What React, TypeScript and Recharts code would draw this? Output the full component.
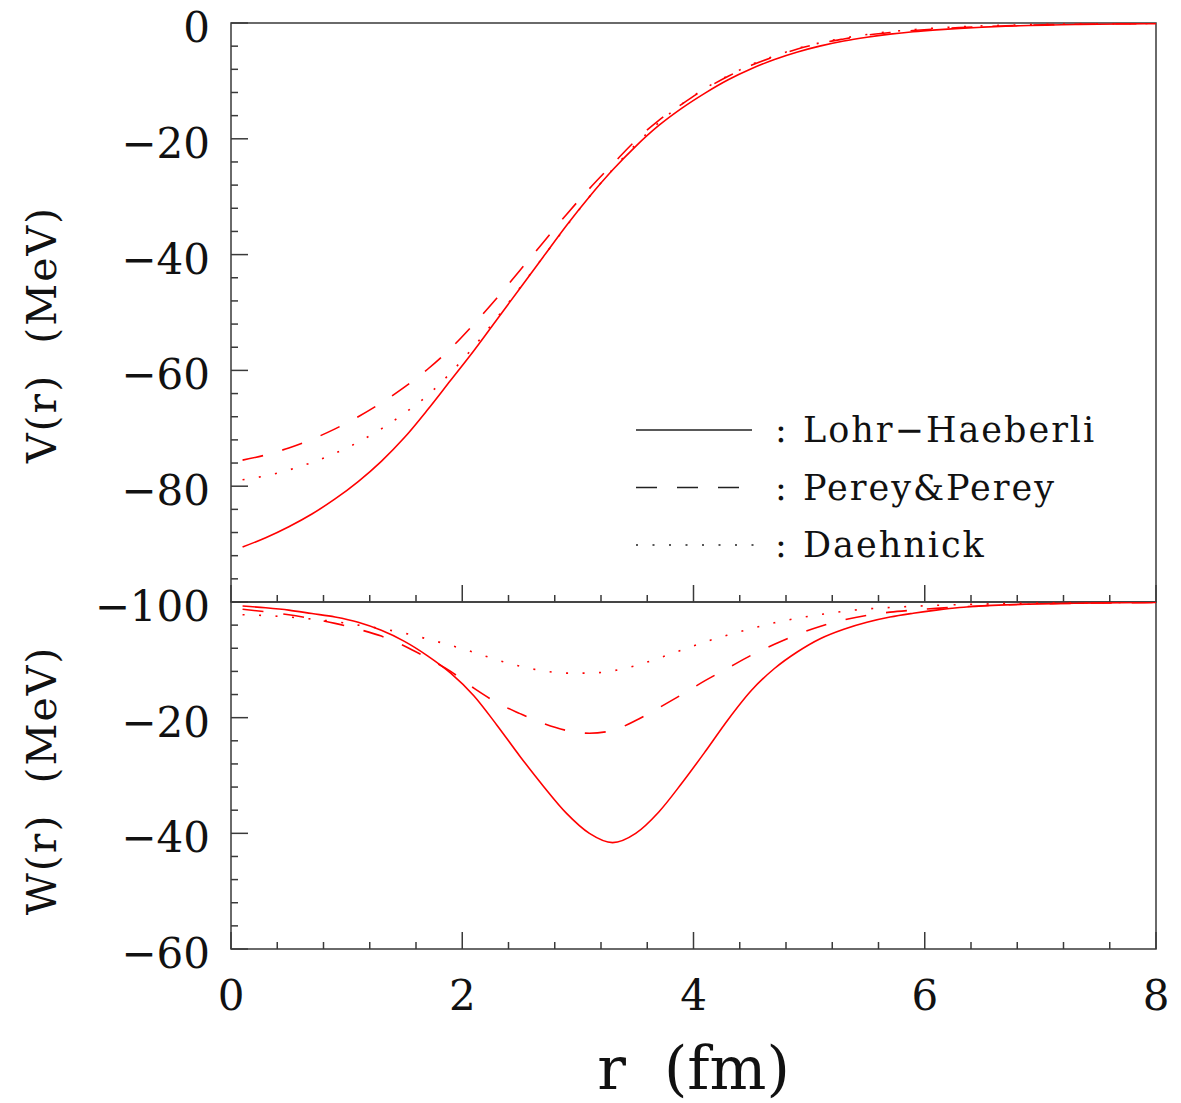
import React from 'react';
import { LineChart, Line, XAxis, YAxis, ReferenceArea, Legend } from 'recharts';

// radius grid (fm), shared by all curves
const R = [0.1, 0.3, 0.5, 0.7, 0.9, 1.1, 1.3, 1.5, 1.7, 1.9, 2.1, 2.3, 2.5, 2.7, 2.9, 3.1, 3.3, 3.5, 3.7, 3.9, 4.1, 4.3, 4.5, 4.7, 4.9, 5.1, 5.3, 5.5, 5.7, 5.9, 6.1, 6.3, 6.5, 6.7, 6.9, 7.1, 7.3, 7.5, 7.7, 7.9, 8.0];

// real part V(r), MeV
const V_LH = [-90.5, -88.9, -87.0, -84.8, -82.2, -79.2, -75.7, -71.6, -66.8, -61.7, -56.6, -51.2, -45.8, -40.4, -35.0, -30.0, -25.4, -21.3, -17.7, -14.7, -12.1, -9.8, -7.9, -6.3, -5.0, -3.95, -3.1, -2.45, -1.92, -1.5, -1.18, -0.92, -0.72, -0.56, -0.44, -0.34, -0.27, -0.21, -0.16, -0.13, -0.11];
const V_PP = [-75.5, -74.6, -73.4, -71.9, -70.1, -68.0, -65.6, -62.9, -59.8, -56.2, -52.0, -47.5, -42.7, -37.9, -33.1, -28.6, -24.4, -20.3, -16.8, -14.0, -11.4, -9.2, -7.3, -5.8, -4.5, -3.5, -2.75, -2.1, -1.65, -1.3, -1.02, -0.8, -0.62, -0.48, -0.37, -0.28, -0.22, -0.17, -0.13, -0.1, -0.09];
const V_D = [-78.9, -78.2, -77.2, -75.9, -74.3, -72.4, -70.1, -67.4, -64.3, -60.4, -55.9, -50.9, -45.7, -40.4, -35.1, -30.0, -25.3, -21.0, -17.2, -14.0, -11.3, -9.1, -7.2, -5.7, -4.4, -3.4, -2.6, -2.0, -1.5, -1.15, -0.87, -0.66, -0.5, -0.38, -0.29, -0.22, -0.17, -0.13, -0.1, -0.08, -0.07];

// imaginary part W(r), MeV
const W_LH = [-0.7, -1.0, -1.4, -2.0, -2.6, -3.5, -4.9, -6.8, -9.3, -12.3, -16.2, -21.3, -26.7, -31.8, -36.5, -40.0, -41.6, -40.0, -36.3, -31.3, -25.9, -20.3, -15.3, -11.5, -8.6, -6.3, -4.7, -3.5, -2.6, -1.95, -1.4, -0.95, -0.68, -0.5, -0.37, -0.28, -0.21, -0.16, -0.12, -0.09, -0.08];
const W_PP = [-1.25, -1.7, -2.2, -2.9, -3.7, -4.7, -5.9, -7.6, -9.7, -12.0, -14.9, -17.4, -19.3, -21.0, -22.2, -22.7, -22.2, -20.5, -18.3, -16.0, -13.6, -11.4, -9.2, -7.3, -5.6, -4.2, -3.1, -2.3, -1.75, -1.4, -1.1, -0.85, -0.65, -0.5, -0.38, -0.29, -0.22, -0.17, -0.13, -0.1, -0.09];
const W_D = [-2.2, -2.35, -2.6, -2.95, -3.4, -4.0, -4.6, -5.4, -6.4, -7.5, -8.7, -10.0, -11.1, -11.9, -12.3, -12.3, -11.9, -11.0, -9.7, -8.3, -6.9, -5.7, -4.6, -3.6, -2.8, -2.15, -1.6, -1.2, -0.95, -0.75, -0.58, -0.45, -0.35, -0.27, -0.21, -0.16, -0.12, -0.09, -0.07, -0.05, -0.05];

const X_TICKS = [0, 0.4, 0.8, 1.2, 1.6, 2, 2.4, 2.8, 3.2, 3.6, 4, 4.4, 4.8, 5.2, 5.6, 6, 6.4, 6.8, 7.2, 7.6, 8];
const X_LABELS = [0, 2, 4, 6, 8];
const V_TICKS = [0, -4, -8, -12, -16, -20, -24, -28, -32, -36, -40, -44, -48, -52, -56, -60, -64, -68, -72, -76, -80, -84, -88, -92, -96, -100];
const V_LABELS = [0, -20, -40, -60, -80, -100];
const W_TICKS = [0, -4, -8, -12, -16, -20, -24, -28, -32, -36, -40, -44, -48, -52, -56, -60];
const W_LABELS = [-20, -40, -60];

const SERIES = [
  { key: 'lh', name: 'Lohr\u2212Haeberli', dash: undefined as string | undefined, legendLen: 116 },
  { key: 'pp', name: 'Perey&Perey', dash: '21 20', legendLen: 103 },
  { key: 'd', name: 'Daehnick', dash: '2 14.5', legendLen: 118 },
];

const RED = '#ff0000';
const INK = '#3a3a3a';
const FONT = '"DejaVu Serif", serif';

const vData = R.map((r, i) => ({ r, lh: V_LH[i], pp: V_PP[i], d: V_D[i] }));
const wData = R.map((r, i) => ({ r, lh: W_LH[i], pp: W_PP[i], d: W_D[i] }));

const fmt = (v: number) => (v < 0 ? '\u2212' + Math.abs(v) : String(v));

const YTick = ({ x, y, payload, labels }: any) => {
  const v = payload.value;
  const major = v % 20 === 0;
  return (
    <g>
      <line x1={x} y1={y} x2={x + (major ? 17 : 7)} y2={y} stroke={INK} strokeWidth={1.5} />
      {labels.includes(v) && (
        <text x={x - 21} y={y} dy={19} textAnchor="end" fontSize={42} fontFamily={FONT} fill="#111">
          {fmt(v)}
        </text>
      )}
    </g>
  );
};

const XTick = ({ x, y, payload, showLabels }: any) => {
  const v = payload.value;
  const major = X_LABELS.includes(v);
  return (
    <g>
      <line x1={x} y1={y} x2={x} y2={y - (major ? 17 : 7)} stroke={INK} strokeWidth={1.5} />
      {showLabels && major && (
        <text x={x} y={y + 61} textAnchor="middle" fontSize={42} fontFamily={FONT} fill="#111">
          {fmt(v)}
        </text>
      )}
    </g>
  );
};

const yLabel = (text: string, shift: number) => (props: any) => {
  const vb = props.viewBox;
  const cx = 42;
  const cy = vb.y + vb.height / 2 + shift;
  return (
    <text x={cx} y={cy} transform={`rotate(-90, ${cx}, ${cy})`} textAnchor="middle" dy={14}
      fontSize={41} letterSpacing={2} fontFamily={FONT} fill="#111" style={{ whiteSpace: 'pre' }}>
      {text}
    </text>
  );
};

const xLabel = (props: any) => {
  const vb = props.viewBox;
  return (
    <text x={vb.x + vb.width / 2} y={vb.y + vb.height - 14} textAnchor="middle"
      fontSize={60} fontFamily={FONT} fill="#111" style={{ whiteSpace: 'pre' }}>
      {'r  (fm)'}
    </text>
  );
};

const LegendBox = () => (
  <svg width={540} height={170} style={{ display: 'block' }}>
    {SERIES.map((s, i) => {
      const y = 30 + i * 57.5;
      return (
        <g key={s.key}>
          <line x1={16} x2={16 + s.legendLen} y1={y} y2={y} stroke="#222" strokeWidth={1.5} strokeDasharray={s.dash} />
          <text x={155} y={y} dy={12} fontSize={35} fontFamily={FONT} fill="#111">:</text>
          <text x={183} y={y} dy={12} fontSize={35} fontFamily={FONT} fill="#111" letterSpacing={2}>{s.name}</text>
        </g>
      );
    })}
  </svg>
);

const lines = () =>
  SERIES.map((s) => (
    <Line key={s.key} type="monotone" dataKey={s.key} name={s.name} stroke={RED} strokeWidth={1.6}
      strokeDasharray={s.dash} dot={false} activeDot={false} isAnimationActive={false} />
  ));

export default function App() {
  return (
    <div style={{ position: 'absolute', left: 0, top: 0, width: 1181, height: 1103, background: '#fff' }}>
      <div style={{ position: 'absolute', left: 0, top: 0 }}>
        <LineChart width={1181} height={640} data={vData} margin={{ top: 23, right: 25, bottom: 0, left: 0 }}>
          <XAxis dataKey="r" type="number" domain={[0, 8]} ticks={X_TICKS} interval={0} height={38}
            axisLine={false} tickLine={false} tickSize={0} tickMargin={0} allowDataOverflow
            tick={<XTick showLabels={false} />} />
          <YAxis type="number" domain={[-100, 0]} ticks={V_TICKS} interval={0} width={231}
            axisLine={false} tickLine={false} tickSize={0} tickMargin={0} allowDataOverflow
            tick={<YTick labels={V_LABELS} />} label={yLabel('V(r)  (MeV)', 22)} />
          <ReferenceArea x1={0} x2={8} y1={-100} y2={0} fill="none" stroke={INK} strokeWidth={1.5} />
          {lines()}
          <Legend layout="vertical" align="center" verticalAlign="middle" content={<LegendBox />}
            wrapperStyle={{ left: 620, top: 400, width: 540, height: 170 }} />
        </LineChart>
      </div>
      <div style={{ position: 'absolute', left: 0, top: 560 }}>
        <LineChart width={1181} height={543} data={wData} margin={{ top: 42, right: 25, bottom: 0, left: 0 }}>
          <XAxis dataKey="r" type="number" domain={[0, 8]} ticks={X_TICKS} interval={0} height={154}
            axisLine={false} tickLine={false} tickSize={0} tickMargin={0} allowDataOverflow
            tick={<XTick showLabels />} label={xLabel} />
          <YAxis type="number" domain={[-60, 0]} ticks={W_TICKS} interval={0} width={231}
            axisLine={false} tickLine={false} tickSize={0} tickMargin={0} allowDataOverflow
            tick={<YTick labels={W_LABELS} />} label={yLabel('W(r)  (MeV)', 5)} />
          <ReferenceArea x1={0} x2={8} y1={-60} y2={0} fill="none" stroke={INK} strokeWidth={1.5} />
          {lines()}
        </LineChart>
      </div>
    </div>
  );
}
